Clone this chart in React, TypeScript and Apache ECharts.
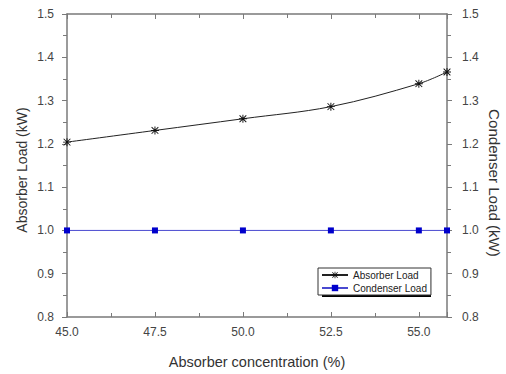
import React, { useEffect, useRef } from "react";
import * as echarts from "echarts";

const concentration = [45.0, 47.5, 50.0, 52.5, 55.0, 55.8];
const absorberLoad = [1.204, 1.231, 1.258, 1.286, 1.339, 1.366];
const condenserLoad = [1.0, 1.0, 1.0, 1.0, 1.0, 1.0];
const seriesNames = ["Absorber Load", "Condenser Load"];
const axisTitles = ["Absorber concentration (%)", "Absorber Load (kW)", "Condenser Load (kW)"];

const asterisk =
  "path://M4.4,0H5.6V10H4.4Z M0,4.4H10V5.6H0Z M1.2,0.4L9.6,8.8L8.8,9.6L0.4,1.2Z M8.8,0.4L9.6,1.2L1.2,9.6L0.4,8.8Z";

const AXIS_COLOR = "#7a7a7a";
const FONT = "'Liberation Sans', Arial, sans-serif";

export default function App() {
  const ref = useRef<HTMLDivElement>(null);
  useEffect(() => {
    if (!ref.current) return;
    const chart = echarts.init(ref.current, null, { renderer: "svg" });
    const absData = concentration.map((c, i) => [c, absorberLoad[i]]);
    const conData = concentration.map((c, i) => [c, condenserLoad[i]]);
    const axisLine = { show: true, lineStyle: { color: AXIS_COLOR, width: 1.5 } };
    const labelStyle = { color: "#444", fontSize: 12, fontFamily: FONT };
    const nameStyle = { color: "#333", fontSize: 14, fontFamily: FONT };
    const yCommon = {
      type: "value",
      min: 0.8,
      max: 1.5,
      interval: 0.1,
      splitLine: { show: false },
      axisLine,
      axisTick: { show: true, inside: false, length: 5, lineStyle: { color: AXIS_COLOR } },
      minorTick: { show: true, splitNumber: 2, length: 4, lineStyle: { color: AXIS_COLOR } },
      axisLabel: { ...labelStyle, formatter: (v: number) => v.toFixed(1) },
    };
    chart.setOption({
      animation: false,
      backgroundColor: "#fff",
      grid: { left: 67, right: 59, top: 14, bottom: 57 },
      xAxis: [
        {
          type: "value",
          min: 45,
          max: 55.8,
          interval: 2.5,
          position: "bottom",
          splitLine: { show: false },
          axisLine,
          axisTick: { show: true, inside: true, length: 5, lineStyle: { color: AXIS_COLOR } },
          minorTick: { show: true, splitNumber: 2, length: 4, lineStyle: { color: AXIS_COLOR } },
          axisLabel: { ...labelStyle, margin: 9, showMaxLabel: false, formatter: (v: number) => v.toFixed(1) },
          name: axisTitles[0],
          nameLocation: "middle",
          nameGap: 37,
          nameTextStyle: { ...nameStyle, fontSize: 14.5 },
        },
        {
          type: "value",
          min: 45,
          max: 55.8,
          interval: 2.5,
          position: "top",
          splitLine: { show: false },
          axisLine,
          axisTick: { show: true, inside: true, length: 5, lineStyle: { color: AXIS_COLOR } },
          minorTick: { show: true, splitNumber: 2, length: 4, lineStyle: { color: AXIS_COLOR } },
          axisLabel: { show: false },
        },
      ],
      yAxis: [
        {
          ...yCommon,
          position: "left",
          axisLabel: { ...yCommon.axisLabel, margin: 13 },
        },
        {
          ...yCommon,
          position: "right",
          axisLabel: { ...yCommon.axisLabel, margin: 15 },
        },
      ],
      legend: {
        left: 318,
        top: 268,
        orient: "vertical",
        backgroundColor: "#fff",
        borderColor: "#333",
        borderWidth: 1,
        padding: [2, 4, 2, 3],
        itemWidth: 26,
        itemHeight: 8,
        itemGap: 3,
        textStyle: { fontSize: 10, color: "#222", fontFamily: FONT },
        data: seriesNames,
      },
      graphic: [
        { type: "rect", shape: { x: 322, y: 272, width: 109, height: 25 }, style: { fill: "#000" }, z: 0 },
        {
          type: "text",
          x: 21.5,
          y: 170,
          rotation: Math.PI / 2,
          style: { text: axisTitles[1], fill: "#333", font: `14px ${FONT}`, textAlign: "center", textVerticalAlign: "middle" },
        },
        {
          type: "text",
          x: 494,
          y: 183,
          rotation: -Math.PI / 2,
          scaleX: 1.08,
          style: { text: axisTitles[2], fill: "#333", font: `14px ${FONT}`, textAlign: "center", textVerticalAlign: "middle" },
        },
      ],
      series: [
        {
          name: seriesNames[0],
          type: "line",
          data: absData,
          smooth: 0.35,
          symbol: asterisk,
          symbolSize: 8,
          clip: false,
          lineStyle: { color: "#222", width: 1 },
          itemStyle: { color: "#111" },
          z: 3,
        },
        {
          name: seriesNames[1],
          type: "line",
          data: conData,
          symbol: "rect",
          symbolSize: 6,
          clip: false,
          lineStyle: { color: "#4a4ad0", width: 1 },
          itemStyle: { color: "#0000cc" },
          z: 3,
        },
      ],
    });
    return () => chart.dispose();
  }, []);
  return <div ref={ref} style={{ width: 506, height: 374, position: "absolute", left: 0, top: 0 }} />;
}
